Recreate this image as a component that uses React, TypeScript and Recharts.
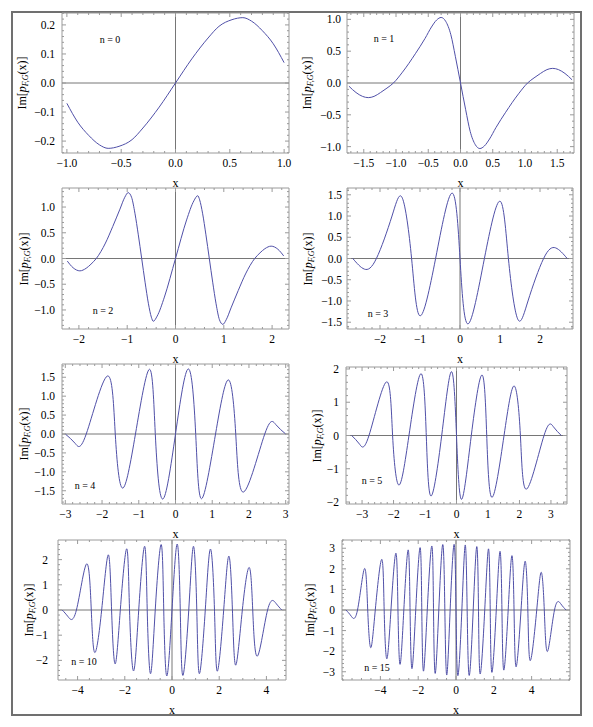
import React from "react";
import { LineChart, Line, XAxis, YAxis, ReferenceLine, ReferenceArea } from "recharts";

// values, one pair of arrays per panel
const n0X = [-1, -0.9, -0.8, -0.7, -0.62, -0.52, -0.4, -0.3, -0.15, 0, 0.15, 0.3, 0.4, 0.52, 0.62, 0.7, 0.8, 0.9, 1];
const n0Y = [-0.07, -0.135, -0.18, -0.213, -0.225, -0.218, -0.195, -0.155, -0.083, 0, 0.083, 0.155, 0.195, 0.218, 0.225, 0.213, 0.18, 0.135, 0.07];

const n1X = [-1.73, -1.62, -1.52, -1.43, -1.34, -1.24, -1.14, -1.04, -0.9, -0.7, -0.55, -0.45, -0.37, -0.3, -0.23, -0.15, -0.08, 0,
  0.08, 0.15, 0.23, 0.3, 0.37, 0.45, 0.55, 0.7, 0.9, 1.04, 1.14, 1.24, 1.34, 1.43, 1.52, 1.62, 1.73];
const n1Y = [-0.05, -0.15, -0.21, -0.23, -0.21, -0.15, -0.08, 0, 0.17, 0.46, 0.7, 0.88, 0.99, 1.03, 0.97, 0.76, 0.42, 0,
  -0.42, -0.76, -0.97, -1.03, -0.99, -0.88, -0.7, -0.46, -0.17, 0, 0.08, 0.15, 0.21, 0.23, 0.21, 0.15, 0.05];

const n2X = [-2.24, -2.12, -1.98, -1.85, -1.75, -1.64, -1.45, -1.3, -1.15, -1.05, -0.98, -0.91, -0.84, -0.77, -0.7, -0.63, -0.56, -0.5, -0.46, -0.38, -0.23, 0,
  0.23, 0.38, 0.46, 0.5, 0.56, 0.63, 0.7, 0.77, 0.84, 0.91, 0.98, 1.05, 1.15, 1.3, 1.45, 1.64, 1.75, 1.85, 1.98, 2.12, 2.24];
const n2Y = [-0.05, -0.18, -0.24, -0.19, -0.11, 0, 0.3, 0.62, 0.96, 1.19, 1.28, 1.19, 0.88, 0.46, 0, -0.46, -0.88, -1.14, -1.22, -1.12, -0.75, 0,
  0.75, 1.12, 1.22, 1.14, 0.88, 0.46, 0, -0.46, -0.88, -1.19, -1.28, -1.19, -0.96, -0.62, -0.3, 0, 0.11, 0.19, 0.24, 0.18, 0.05];

const n3X = [-2.68, -2.39, -2.09, -1.7, -1.44, -1.21, -1.0, -0.61, -0.2, 0, 0.2, 0.61, 1.0, 1.21, 1.44, 1.7, 2.09, 2.39, 2.68];
const n3Y = [0, -0.25, 0, 1.0, 1.42, 0, -1.35, 0, 1.54, 0, -1.54, 0, 1.35, 0, -1.42, -1.0, 0, 0.25, 0];

const n4X = [-3, -2.73, -2.43, -1.86, -1.64, -1.44, -1.09, -0.71, -0.55, -0.35, 0, 0.35, 0.55, 0.71, 1.09, 1.44, 1.64, 1.86, 2.43, 2.73, 3];
const n4Y = [0, -0.25, 0, 1.53, 0, -1.43, 0, 1.71, 0, -1.72, 0, 1.72, 0, -1.71, 0, 1.43, 0, -1.53, 0, 0.25, 0];

const n5X = [-3.33, -3.08, -2.78, -2.23, -2.03, -1.83, -1.51, -1.13, -0.96, -0.81, -0.47, -0.16, 0, 0.16, 0.47, 0.81, 0.96, 1.13, 1.51, 1.83, 2.03, 2.23, 2.78, 3.08, 3.33];
const n5Y = [0, -0.26, 0, 1.61, 0, -1.49, 0, 1.86, 0, -1.82, 0, 1.92, 0, -1.92, 0, 1.82, 0, -1.86, 0, 1.49, 0, -1.61, 0, 0.26, 0];

const n10X = [-4.65, -4.4, -4.05, -3.62, -3.42, -3.27, -2.98, -2.7, -2.56, -2.41, -2.19, -1.92, -1.8, -1.63, -1.41, -1.16, -1.05, -0.91, -0.71, -0.46, -0.35, -0.22, 0,
  0.22, 0.35, 0.46, 0.71, 0.91, 1.05, 1.16, 1.41, 1.63, 1.8, 1.92, 2.19, 2.41, 2.56, 2.7, 2.98, 3.27, 3.42, 3.62, 4.05, 4.4, 4.65];
const n10Y = [0, -0.27, 0, 1.83, 0, -1.69, 0, 2.19, 0, -2.14, 0, 2.43, 0, -2.42, 0, 2.53, 0, -2.53, 0, 2.6, 0, -2.62, 0,
  2.62, 0, -2.6, 0, 2.53, 0, -2.53, 0, 2.42, 0, -2.43, 0, 2.14, 0, -2.19, 0, 1.69, 0, -1.83, 0, 0.27, 0];

const n15X = [-5.82, -5.55, -5.21, -4.84, -4.67, -4.51, -4.27, -3.93, -3.8, -3.66, -3.44, -3.18, -3.07, -2.96, -2.76, -2.53, -2.43, -2.33, -2.13, -1.9, -1.81, -1.72,
  -1.52, -1.28, -1.19, -1.1, -0.91, -0.7, -0.59, -0.49, -0.31, -0.1, 0, 0.1, 0.31, 0.49, 0.59, 0.7, 0.91, 1.1, 1.19, 1.28, 1.52, 1.72, 1.81, 1.9, 2.13, 2.33,
  2.43, 2.53, 2.76, 2.96, 3.07, 3.18, 3.44, 3.66, 3.8, 3.93, 4.27, 4.51, 4.67, 4.84, 5.21, 5.55, 5.82];
const n15Y = [0, -0.29, 0, 2.01, 0, -1.83, 0, 2.46, 0, -2.37, 0, 2.76, 0, -2.64, 0, 2.92, 0, -2.85, 0, 3.03, 0, -2.97,
  0, 3.11, 0, -3.08, 0, 3.18, 0, -3.16, 0, 3.19, 0, -3.19, 0, 3.16, 0, -3.18, 0, 3.08, 0, -3.11, 0, 2.97, 0, -3.03, 0, 2.85,
  0, -2.92, 0, 2.64, 0, -2.76, 0, 2.37, 0, -2.46, 0, 1.83, 0, -2.01, 0, 0.29, 0];

// tick labels
const n0XTicks = [-1, -0.5, 0, 0.5, 1];
const n0YTicks = [-0.2, -0.1, 0, 0.1, 0.2];
const n1XTicks = [-1.5, -1, -0.5, 0, 0.5, 1, 1.5];
const n1YTicks = [-1, -0.5, 0, 0.5, 1];
const n2XTicks = [-2, -1, 0, 1, 2];
const n2YTicks = [-1, -0.5, 0, 0.5, 1];
const n3XTicks = [-2, -1, 0, 1, 2];
const n3YTicks = [-1.5, -1, -0.5, 0, 0.5, 1, 1.5];
const n4XTicks = [-3, -2, -1, 0, 1, 2, 3];
const n4YTicks = [-1.5, -1, -0.5, 0, 0.5, 1, 1.5];
const n5XTicks = [-3, -2, -1, 0, 1, 2, 3];
const n5YTicks = [-2, -1, 0, 1, 2];
const n10XTicks = [-4, -2, 0, 2, 4];
const n10YTicks = [-2, -1, 0, 1, 2];
const n15XTicks = [-4, -2, 0, 2, 4];
const n15YTicks = [-3, -2, -1, 0, 1, 2, 3];

const CURVE = "#5050a8";
const FRAME = "#9a9a9a";
const AXIS = "#767676";
const SERIF = '"Liberation Serif", "Times New Roman", Times, serif';

const YW = 50;
const TOP = 4;
const RIGHT = 6;
const XH = 24;

type Panel = {
  n: number;
  xs: number[];
  ys: number[];
  xTicks: number[];
  yTicks: number[];
  xDomain: [number, number];
  yDomain: [number, number];
  xDec: number;
  yDec: number;
  xMinor: number;
  yMinor: number;
  frame: [number, number, number, number];
  yLabelX: number;
  yGap: number;
  nPos: [number, number];
  curve: "monotone" | "natural";
};

const panels: Panel[] = [
  { n: 0, xs: n0X, ys: n0Y, xTicks: n0XTicks, yTicks: n0YTicks, xDomain: [-1.045, 1.045], yDomain: [-0.241, 0.241], xDec: 1, yDec: 1, xMinor: 0.1, yMinor: 0.02, frame: [62, 13, 289, 153], yLabelX: 23, yGap: 7, nPos: [110, 40], curve: "monotone" },
  { n: 1, xs: n1X, ys: n1Y, xTicks: n1XTicks, yTicks: n1YTicks, xDomain: [-1.76, 1.76], yDomain: [-1.1, 1.1], xDec: 1, yDec: 1, xMinor: 0.1, yMinor: 0.1, frame: [347, 13, 574, 153], yLabelX: 308, yGap: 6, nPos: [384, 39], curve: "monotone" },
  { n: 2, xs: n2X, ys: n2Y, xTicks: n2XTicks, yTicks: n2YTicks, xDomain: [-2.35, 2.35], yDomain: [-1.37, 1.37], xDec: 0, yDec: 1, xMinor: 0.2, yMinor: 0.1, frame: [62, 188, 289, 329], yLabelX: 25, yGap: 7, nPos: [103, 311], curve: "monotone" },
  { n: 3, xs: n3X, ys: n3Y, xTicks: n3XTicks, yTicks: n3YTicks, xDomain: [-2.825, 2.825], yDomain: [-1.66, 1.66], xDec: 0, yDec: 1, xMinor: 0.2, yMinor: 0.1, frame: [347, 188, 573, 329], yLabelX: 309, yGap: 5, nPos: [378, 314], curve: "natural" },
  { n: 4, xs: n4X, ys: n4Y, xTicks: n4XTicks, yTicks: n4YTicks, xDomain: [-3.09, 3.09], yDomain: [-1.85, 1.85], xDec: 0, yDec: 1, xMinor: 0.2, yMinor: 0.1, frame: [62, 364, 289, 504], yLabelX: 25, yGap: 7, nPos: [85, 486], curve: "natural" },
  { n: 5, xs: n5X, ys: n5Y, xTicks: n5XTicks, yTicks: n5YTicks, xDomain: [-3.51, 3.51], yDomain: [-2.06, 2.06], xDec: 0, yDec: 0, xMinor: 0.2, yMinor: 0.2, frame: [346, 367, 567, 504], yLabelX: 318, yGap: 7, nPos: [372, 481], curve: "natural" },
  { n: 10, xs: n10X, ys: n10Y, xTicks: n10XTicks, yTicks: n10YTicks, xDomain: [-4.83, 4.83], yDomain: [-2.78, 2.78], xDec: 0, yDec: 0, xMinor: 0.5, yMinor: 0.2, frame: [58, 540, 286, 680], yLabelX: 30, yGap: 10, nPos: [84, 662], curve: "natural" },
  { n: 15, xs: n15X, ys: n15Y, xTicks: n15XTicks, yTicks: n15YTicks, xDomain: [-6.03, 6.03], yDomain: [-3.4, 3.4], xDec: 0, yDec: 0, xMinor: 0.5, yMinor: 0.2, frame: [342, 540, 570, 680], yLabelX: 311, yGap: 7, nPos: [377, 668], curve: "natural" },
];

function fmt(v: number, dec: number) {
  const s = Math.abs(v).toFixed(dec);
  return v < -1e-9 ? "\u2212" + s : s;
}

function withMinor(major: number[], step: number, domain: [number, number]) {
  const out: number[] = [];
  const k0 = Math.ceil(domain[0] / step - 1e-9);
  const k1 = Math.floor(domain[1] / step + 1e-9);
  for (let k = k0; k <= k1; k++) out.push(Math.round(k * step * 1000) / 1000);
  major.forEach((m) => {
    if (!out.some((t) => Math.abs(t - m) < 1e-6)) out.push(m);
  });
  return out.sort((a, b) => a - b);
}

const isMajor = (list: number[], v: number) => list.some((t) => Math.abs(t - v) < 1e-6);

const tickText = { fontFamily: SERIF, fontSize: 11.5, fill: "#000" };

function PanelChart({ p }: { p: Panel }) {
  const [fl, ft, fr, fb] = p.frame;
  const w = fr - fl;
  const h = fb - ft;
  const data = p.xs.map((x, i) => ({ x, y: p.ys[i] }));
  const xAll = withMinor(p.xTicks, p.xMinor, p.xDomain);
  const yAll = withMinor(p.yTicks, p.yMinor, p.yDomain);
  const pt = TOP;
  const pb = TOP + h;
  const pl = YW;
  const pr = YW + w;

  const xTick = (props: any) => {
    const { x, payload } = props;
    const v = payload.value;
    const major = isMajor(p.xTicks, v);
    const len = major ? 4 : 2;
    return (
      <g>
        <line x1={x} x2={x} y1={pb} y2={pb - len} stroke={FRAME} />
        <line x1={x} x2={x} y1={pt} y2={pt + len} stroke={FRAME} />
        {major && (
          <text x={x} y={pb + 14} textAnchor="middle" style={tickText}>
            {fmt(v, p.xDec)}
          </text>
        )}
      </g>
    );
  };

  const yTick = (props: any) => {
    const { y, payload } = props;
    const v = payload.value;
    const major = isMajor(p.yTicks, v);
    const len = major ? 4 : 2;
    return (
      <g>
        <line x1={pl} x2={pl + len} y1={y} y2={y} stroke={FRAME} />
        <line x1={pr} x2={pr - len} y1={y} y2={y} stroke={FRAME} />
        {major && (
          <text x={pl - p.yGap} y={y + 4} textAnchor="end" style={tickText}>
            {fmt(v, p.yDec)}
          </text>
        )}
      </g>
    );
  };

  return (
    <>
      <div style={{ position: "absolute", left: fl - YW, top: ft - TOP }}>
        <LineChart
          width={w + YW + RIGHT}
          height={h + TOP + XH}
          data={data}
          margin={{ top: TOP, right: RIGHT, bottom: 0, left: 0 }}
        >
          <XAxis
            dataKey="x"
            type="number"
            domain={p.xDomain}
            ticks={xAll}
            interval={0}
            tick={xTick}
            tickLine={false}
            axisLine={false}
            height={XH}
          />
          <YAxis
            type="number"
            domain={p.yDomain}
            ticks={yAll}
            interval={0}
            tick={yTick}
            tickLine={false}
            axisLine={false}
            width={YW}
          />
          <ReferenceArea
            x1={p.xDomain[0]}
            x2={p.xDomain[1]}
            y1={p.yDomain[0]}
            y2={p.yDomain[1]}
            fill="none"
            fillOpacity={0}
            stroke={FRAME}
          />
          <ReferenceLine x={0} stroke={AXIS} />
          <ReferenceLine y={0} stroke={AXIS} />
          <Line
            dataKey="y"
            type={p.curve}
            stroke={CURVE}
            strokeWidth={1}
            dot={false}
            isAnimationActive={false}
          />
        </LineChart>
      </div>
      <div
        style={{
          position: "absolute",
          left: p.yLabelX,
          top: (ft + fb) / 2,
          transform: "translate(-50%, -50%) rotate(-90deg)",
          whiteSpace: "nowrap",
          fontFamily: SERIF,
          fontSize: 12,
          lineHeight: "14px",
        }}
      >
        Im[<i>p</i>
        <span style={{ fontSize: 8, position: "relative", top: 2, fontStyle: "italic" }}>F,G</span>
        (x)]
      </div>
      <div
        style={{
          position: "absolute",
          left: (fl + fr) / 2,
          top: fb + 30,
          transform: "translate(-50%, -50%)",
          fontFamily: SERIF,
          fontSize: 12,
          lineHeight: "14px",
        }}
      >
        x
      </div>
      <div
        style={{
          position: "absolute",
          left: p.nPos[0],
          top: p.nPos[1],
          transform: "translate(-50%, -50%)",
          whiteSpace: "nowrap",
          fontFamily: SERIF,
          fontSize: 10,
          lineHeight: "12px",
        }}
      >
        n = {p.n}
      </div>
    </>
  );
}

export default function App() {
  return (
    <div style={{ position: "absolute", left: 0, top: 0, width: 593, height: 727, background: "#fff" }}>
      <div
        style={{
          position: "absolute",
          left: 11,
          top: 11,
          width: 571,
          height: 705,
          border: "2px solid #707070",
          boxSizing: "border-box",
        }}
      />
      {panels.map((p) => (
        <PanelChart key={p.n} p={p} />
      ))}
    </div>
  );
}
